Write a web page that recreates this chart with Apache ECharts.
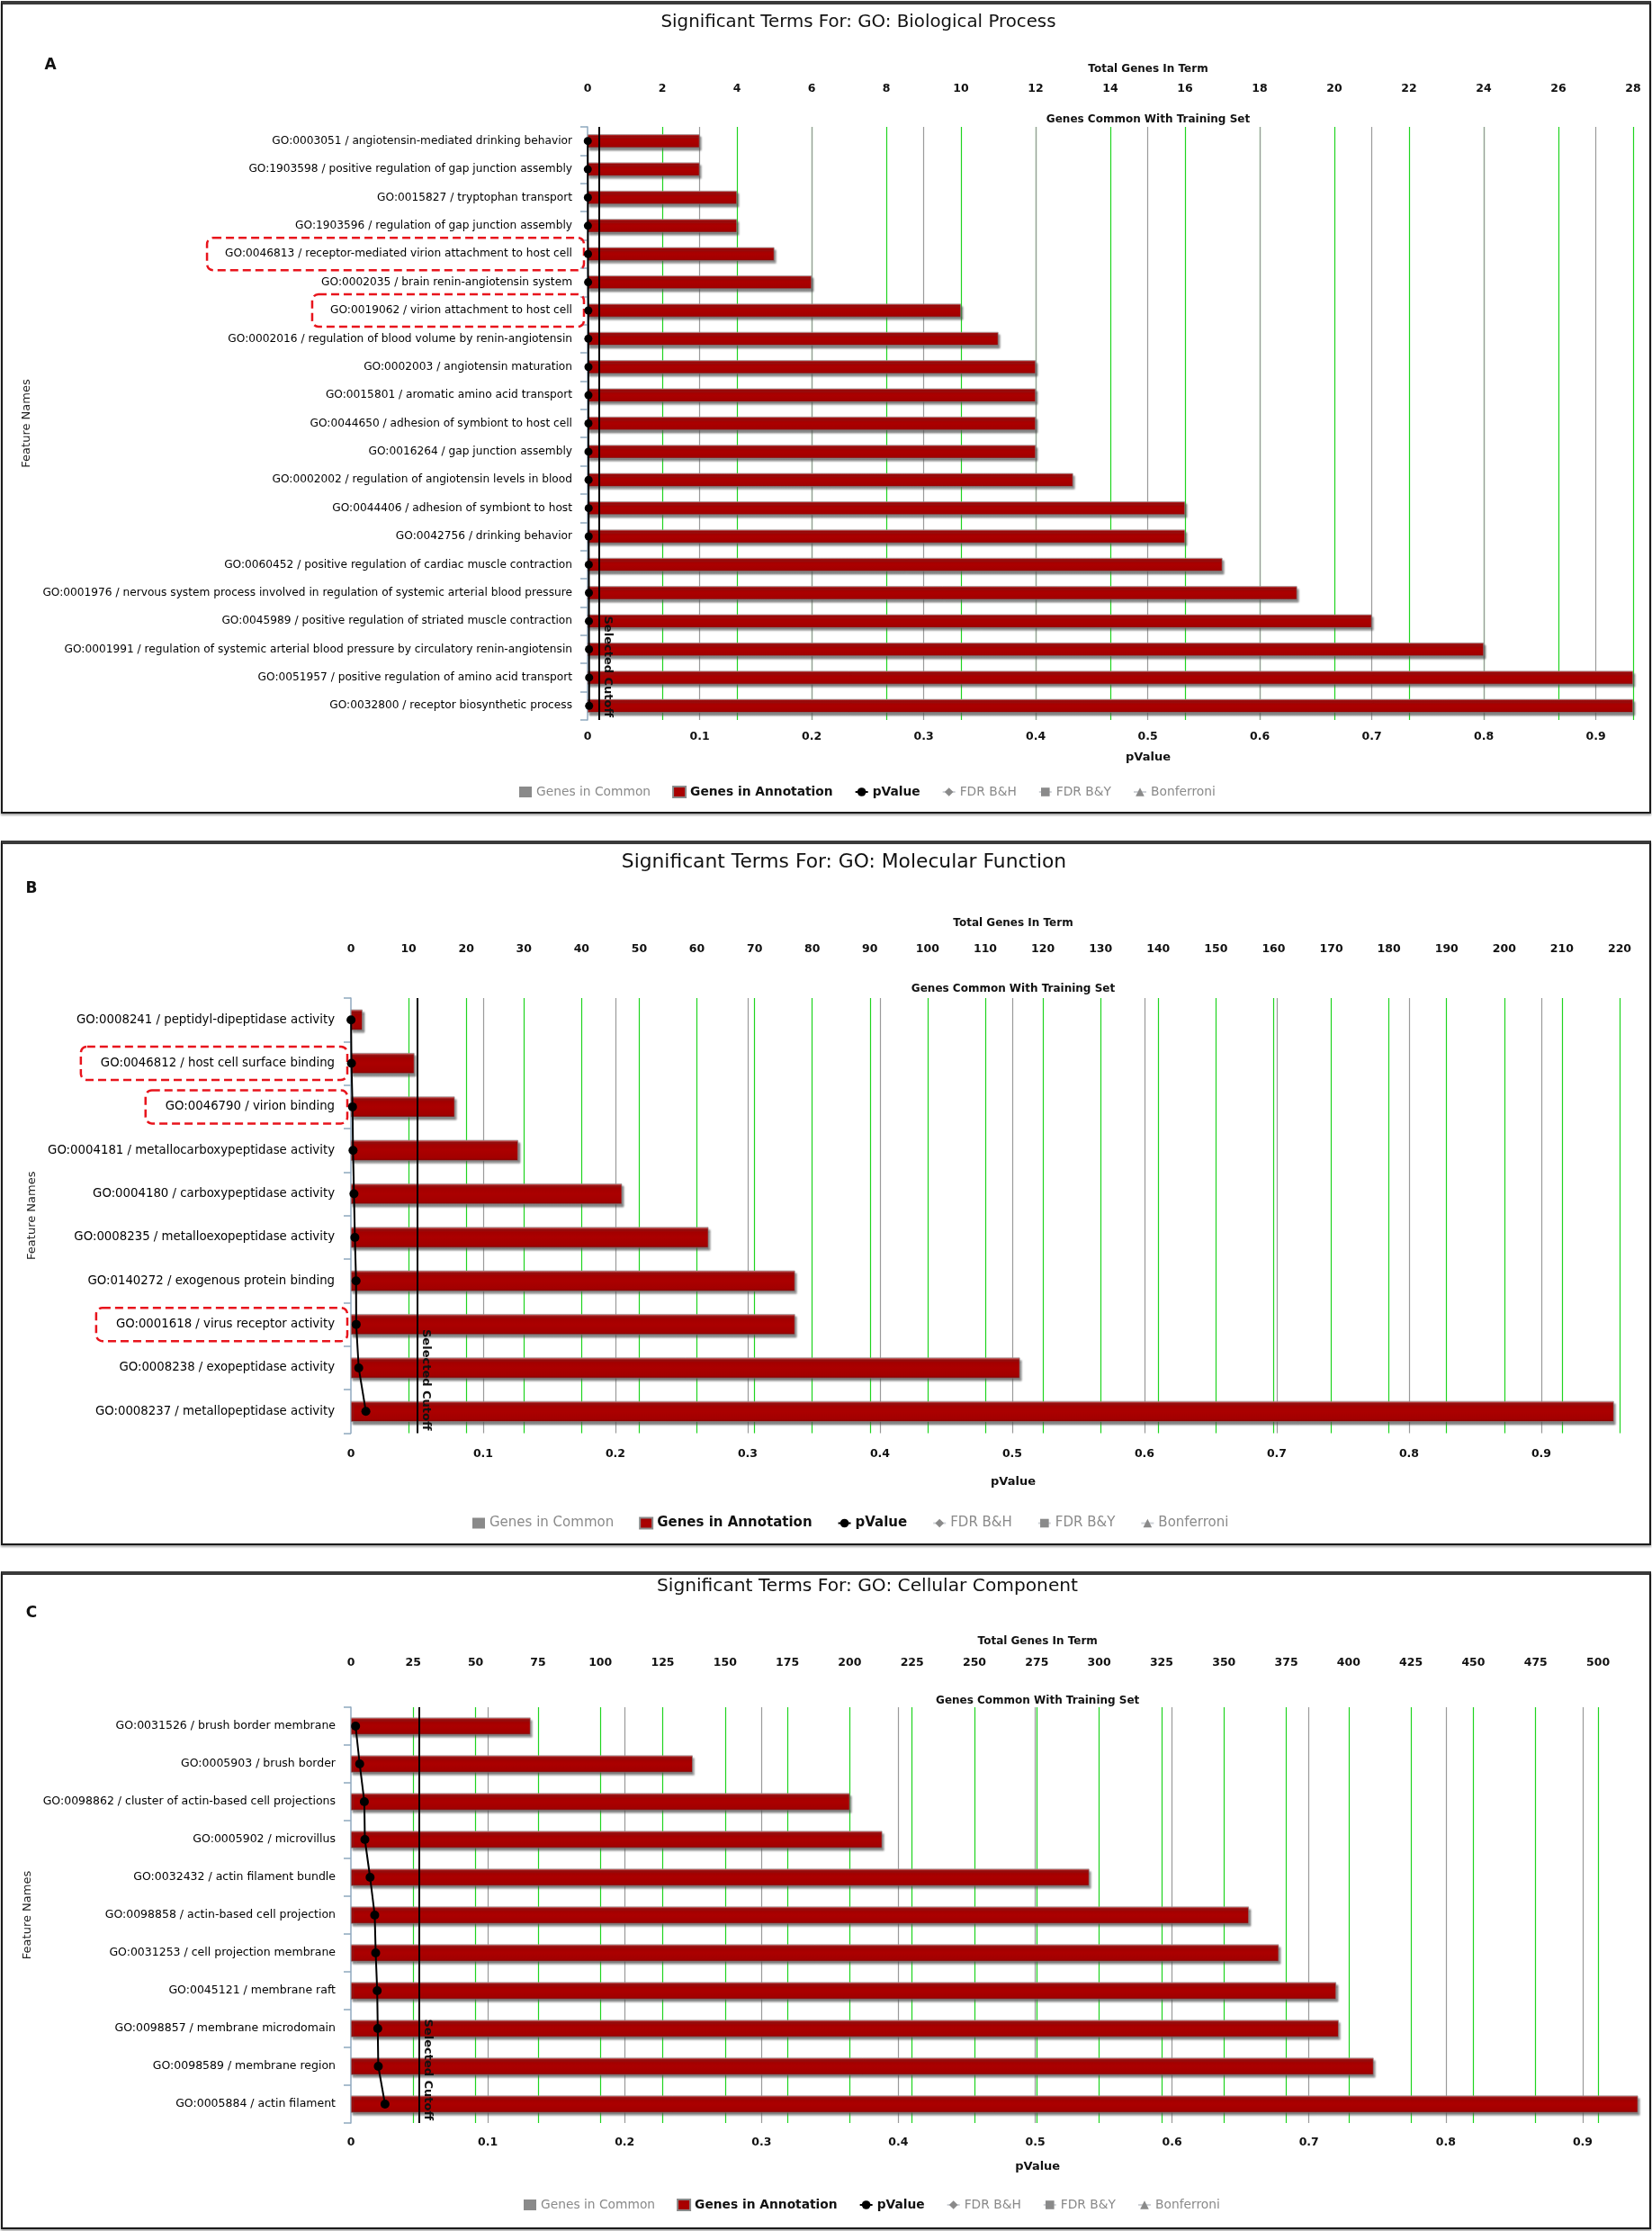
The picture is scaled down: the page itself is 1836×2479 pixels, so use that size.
<!DOCTYPE html>
<html><head><meta charset="utf-8">
<script src="https://cdn.jsdelivr.net/npm/echarts@6/dist/echarts.min.js"></script>
<style>
html,body{margin:0;padding:0;background:#fff;width:1836px;height:2479px;overflow:hidden;}
.chart{position:absolute;left:0;width:1836px;}
.frame{position:absolute;box-sizing:border-box;border:2px solid #1a1a1a;border-top:4px solid #3a3a3a;box-shadow:0 2px 2px rgba(0,0,0,0.35);pointer-events:none;}
</style></head><body>
<div class="chart" id="cA" style="top:0;height:905px"></div>
<div class="frame" style="left:1px;top:1px;width:1834px;height:903px"></div>
<div class="chart" id="cB" style="top:933px;height:785px"></div>
<div class="frame" style="left:1px;top:934px;width:1834px;height:783px"></div>
<div class="chart" id="cC" style="top:1745px;height:733px"></div>
<div class="frame" style="left:1px;top:1746px;width:1834px;height:731px"></div>
<script>
// ---------- Panel A : GO Biological Process ----------
const termsA = [
  'GO:0003051 / angiotensin-mediated drinking behavior',
  'GO:1903598 / positive regulation of gap junction assembly',
  'GO:0015827 / tryptophan transport',
  'GO:1903596 / regulation of gap junction assembly',
  'GO:0046813 / receptor-mediated virion attachment to host cell',
  'GO:0002035 / brain renin-angiotensin system',
  'GO:0019062 / virion attachment to host cell',
  'GO:0002016 / regulation of blood volume by renin-angiotensin',
  'GO:0002003 / angiotensin maturation',
  'GO:0015801 / aromatic amino acid transport',
  'GO:0044650 / adhesion of symbiont to host cell',
  'GO:0016264 / gap junction assembly',
  'GO:0002002 / regulation of angiotensin levels in blood',
  'GO:0044406 / adhesion of symbiont to host',
  'GO:0042756 / drinking behavior',
  'GO:0060452 / positive regulation of cardiac muscle contraction',
  'GO:0001976 / nervous system process involved in regulation of systemic arterial blood pressure',
  'GO:0045989 / positive regulation of striated muscle contraction',
  'GO:0001991 / regulation of systemic arterial blood pressure by circulatory renin-angiotensin',
  'GO:0051957 / positive regulation of amino acid transport',
  'GO:0032800 / receptor biosynthetic process'
];
const annotationA = [3, 3, 4, 4, 5, 6, 10, 11, 12, 12, 12, 12, 13, 16, 16, 17, 19, 21, 24, 28, 28];
const pValueA = [0.0002, 0.0002, 0.0003, 0.0003, 0.0004, 0.0005, 0.0007, 0.0007, 0.0008, 0.0008, 0.0008,
                 0.0008, 0.0009, 0.0010, 0.0010, 0.0011, 0.0012, 0.0012, 0.0013, 0.0014, 0.0014];
const highlightA = ['GO:0046813 / receptor-mediated virion attachment to host cell', 'GO:0019062 / virion attachment to host cell'];
const cutoffA = 0.01;

// ---------- Panel B : GO Molecular Function ----------
const termsB = [
  'GO:0008241 / peptidyl-dipeptidase activity',
  'GO:0046812 / host cell surface binding',
  'GO:0046790 / virion binding',
  'GO:0004181 / metallocarboxypeptidase activity',
  'GO:0004180 / carboxypeptidase activity',
  'GO:0008235 / metalloexopeptidase activity',
  'GO:0140272 / exogenous protein binding',
  'GO:0001618 / virus receptor activity',
  'GO:0008238 / exopeptidase activity',
  'GO:0008237 / metallopeptidase activity'
];
const annotationB = [2, 11, 18, 29, 47, 62, 77, 77, 116, 219];
const pValueB = [0.0001, 0.0004, 0.0012, 0.0016, 0.0023, 0.0030, 0.0039, 0.0040, 0.0059, 0.0113];
const highlightB = ['GO:0046812 / host cell surface binding', 'GO:0046790 / virion binding', 'GO:0001618 / virus receptor activity'];
const cutoffB = 0.05;

// ---------- Panel C : GO Cellular Component ----------
const termsC = [
  'GO:0031526 / brush border membrane',
  'GO:0005903 / brush border',
  'GO:0098862 / cluster of actin-based cell projections',
  'GO:0005902 / microvillus',
  'GO:0032432 / actin filament bundle',
  'GO:0098858 / actin-based cell projection',
  'GO:0031253 / cell projection membrane',
  'GO:0045121 / membrane raft',
  'GO:0098857 / membrane microdomain',
  'GO:0098589 / membrane region',
  'GO:0005884 / actin filament'
];
const annotationC = [72, 137, 200, 213, 296, 360, 372, 395, 396, 410, 516];
const pValueC = [0.0034, 0.0064, 0.0098, 0.0102, 0.0140, 0.0174, 0.0181, 0.0192, 0.0196, 0.0200, 0.0249];
const highlightC = [];
const cutoffC = 0.05;

const legendNames = ['Genes in Common', 'Genes in Annotation', 'pValue', 'FDR B&H', 'FDR B&Y', 'Bonferroni'];
const FONT = '"DejaVu Sans", Verdana, sans-serif';

function build(cfg) {
  const rich = {
    n: {fontFamily: FONT, fontSize: cfg.labelSize, color: '#000', padding: [0, cfg.padR, 0, 0]},
    hl: {fontFamily: FONT, fontSize: cfg.labelSize, color: '#000',
         padding: [cfg.padV, cfg.padR, cfg.padV, cfg.padL],
         borderColor: '#e8141c', borderWidth: 2.5, borderType: [9, 5], borderRadius: 7}
  };
  const barColor = new echarts.graphic.LinearGradient(0, 0, 0, 1, [
    {offset: 0, color: '#d98a8a'}, {offset: 0.12, color: '#a00000'},
    {offset: 0.5, color: '#ab0000'}, {offset: 0.88, color: '#a20000'}, {offset: 1, color: '#7a0000'}
  ]);
  const numLabel = {fontFamily: FONT, fontSize: 12.5, fontWeight: 'bold', color: '#111'};
  const axisNameStyle = {fontFamily: FONT, fontSize: 12, fontWeight: 'bold', color: '#111',
                         padding: [0, 0, 0, 2 * cfg.nameShift]};
  return {
    animation: false,
    textStyle: {fontFamily: FONT},
    graphic: [
      {type: 'text', x: cfg.titleX, y: cfg.titleY,
       style: {text: cfg.title, fill: '#111', font: 'normal ' + cfg.titleSize + 'px ' + FONT,
                align: 'center', verticalAlign: 'middle', textAlign: 'center', textVerticalAlign: 'middle'}},
      {type: 'text', x: cfg.letterX, y: cfg.letterY,
       style: {text: cfg.letter, fill: '#111', font: 'bold 17px ' + FONT,
                align: 'center', verticalAlign: 'middle', textAlign: 'center', textVerticalAlign: 'middle'}}
    ],
    legend: {
      left: cfg.legendLeft, top: cfg.legendTop, padding: 5,
      itemWidth: 14, itemHeight: 12, itemGap: cfg.legendGap, inactiveColor: '#8a8a8a',
      selected: {'Genes in Common': false, 'FDR B&H': false, 'FDR B&Y': false, 'Bonferroni': false},
      textStyle: {fontFamily: FONT, fontSize: cfg.legendSize, color: '#111', fontWeight: 'bold'},
      data: [
        {name: legendNames[0], icon: 'rect', textStyle: {fontWeight: 'normal'}},
        {name: legendNames[1], icon: 'rect'},
        {name: legendNames[2]},
        {name: legendNames[3], textStyle: {fontWeight: 'normal'}},
        {name: legendNames[4], textStyle: {fontWeight: 'normal'}},
        {name: legendNames[5], textStyle: {fontWeight: 'normal'}}
      ]
    },
    grid: {left: cfg.gridLeft, top: cfg.gridTop, width: cfg.gridWidth, height: cfg.gridHeight,
           containLabel: false, outerBoundsMode: 'none'},
    xAxis: [
      {type: 'value', position: 'top', min: 0, max: cfg.geneMax, interval: cfg.geneStep,
       name: 'Total Genes In Term', nameLocation: 'middle', nameGap: cfg.totalNameGap, nameTextStyle: axisNameStyle,
       axisLine: {show: false}, axisTick: {show: false},
       axisLabel: Object.assign({margin: cfg.topLabelMargin, showMaxLabel: cfg.showGeneMaxLabel, showMinLabel: true}, numLabel),
       splitLine: {show: true, showMinLine: false, showMaxLine: cfg.showGeneMaxLabel, lineStyle: {color: '#1fd41f', width: 1.2}}},
      {type: 'value', position: 'bottom', min: 0, max: cfg.pMax, interval: 0.1,
       name: 'pValue', nameLocation: 'middle', nameGap: cfg.pNameGap,
       nameTextStyle: Object.assign({}, axisNameStyle, {fontSize: 13}),
       axisLine: {show: false}, axisTick: {show: false},
       axisLabel: Object.assign({margin: cfg.bottomLabelMargin, showMaxLabel: false, showMinLabel: true,
                                 formatter: v => String(Math.round(v * 10) / 10)}, numLabel),
       splitLine: {show: true, showMinLine: false, showMaxLine: false, lineStyle: {color: '#9a9a9a', width: 1.2}}},
      {type: 'value', position: 'top', min: 0, max: cfg.geneMax,
       name: 'Genes Common With Training Set', nameLocation: 'middle', nameGap: cfg.commonNameGap, nameTextStyle: axisNameStyle,
       axisLine: {show: false}, axisTick: {show: false}, axisLabel: {show: false}, splitLine: {show: false}}
    ],
    yAxis: {
      type: 'category', inverse: true, data: cfg.terms,
      name: 'Feature Names', nameLocation: 'middle', nameRotate: 90, nameGap: cfg.featNameGap,
      nameTextStyle: {fontFamily: FONT, fontSize: 13, color: '#222'},
      axisLine: {show: true, lineStyle: {color: '#8fa9bf', width: 1.5}},
      axisTick: {show: true, length: 8, inside: false, lineStyle: {color: '#8fa9bf', width: 1.5}},
      axisLabel: {margin: 4, rich: rich,
                  formatter: v => (cfg.highlight.indexOf(v) >= 0 ? '{hl|' + v + '}' : '{n|' + v + '}')},
      splitLine: {show: false}
    },
    series: [
      {name: 'Genes in Common', type: 'bar', xAxisIndex: 0, data: [], itemStyle: {color: '#8c8c8c'}},
      {name: 'Genes in Annotation', type: 'bar', xAxisIndex: 0, data: cfg.annotation,
       barWidth: cfg.barWidth, barGap: '-100%',
       itemStyle: {color: barColor, borderColor: '#8a8a8a', borderWidth: 0.6,
                   shadowColor: 'rgba(80,80,80,0.7)', shadowOffsetX: 2, shadowOffsetY: 3, shadowBlur: 2}},
      {name: 'pValue', type: 'line', xAxisIndex: 1, data: cfg.pValue, z: 6,
       symbol: 'circle', symbolSize: cfg.symbolSize, showSymbol: true,
       lineStyle: {color: '#000', width: 2}, itemStyle: {color: '#000'},
       markLine: {silent: true, symbol: 'none', animation: false,
                  data: [{xAxis: cfg.cutoff}],
                  lineStyle: {color: '#000', width: 2, type: 'solid'},
                  label: {show: true, formatter: 'Selected Cutoff', position: 'insideEndTop', distance: 3,
                          fontFamily: FONT, fontSize: 13, fontWeight: 'bold', color: '#111'}}},
      {name: 'FDR B&H', type: 'line', xAxisIndex: 1, data: [], symbol: 'diamond', itemStyle: {color: '#777'}, lineStyle: {color: '#777'}},
      {name: 'FDR B&Y', type: 'line', xAxisIndex: 1, data: [], symbol: 'rect', itemStyle: {color: '#777'}, lineStyle: {color: '#777'}},
      {name: 'Bonferroni', type: 'line', xAxisIndex: 1, data: [], symbol: 'triangle', itemStyle: {color: '#777'}, lineStyle: {color: '#777'}}
    ]
  };
}

const cfgA = {
  terms: termsA, annotation: annotationA, pValue: pValueA, highlight: highlightA, cutoff: cutoffA,
  title: 'Significant Terms For: GO: Biological Process', titleX: 954, titleY: 25, titleSize: 19.8,
  letter: 'A', letterX: 56, letterY: 73,
  labelSize: 12.2, padR: 13, padL: 20, padV: 12,
  gridLeft: 653, gridTop: 141, gridWidth: 1162, gridHeight: 659,
  geneMax: 28, geneStep: 2, pMax: 0.9333, showGeneMaxLabel: true,
  topLabelMargin: 36, totalNameGap: 58, commonNameGap: 2, bottomLabelMargin: 12, pNameGap: 35, nameShift: 42,
  featNameGap: 601, legendLeft: 572, legendTop: 868, legendGap: 24, legendSize: 13.8,
  barWidth: 15, symbolSize: 9
};
const cfgB = {
  terms: termsB, annotation: annotationB, pValue: pValueB, highlight: highlightB, cutoff: cutoffB,
  title: 'Significant Terms For: GO: Molecular Function', titleX: 938, titleY: 25, titleSize: 21.8,
  letter: 'B', letterX: 35, letterY: 55,
  labelSize: 13.3, padR: 14, padL: 22, padV: 12,
  gridLeft: 390, gridTop: 176, gridWidth: 1410, gridHeight: 483.5,
  geneMax: 220, geneStep: 10, pMax: 0.9592, showGeneMaxLabel: true,
  topLabelMargin: 48, totalNameGap: 77.5, commonNameGap: 4.5, bottomLabelMargin: 16.5, pNameGap: 47.5, nameShift: 31,
  featNameGap: 348, legendLeft: 520, legendTop: 747, legendGap: 28, legendSize: 15,
  barWidth: 23, symbolSize: 10
};
const cfgC = {
  terms: termsC, annotation: annotationC, pValue: pValueC, highlight: highlightC, cutoff: cutoffC,
  title: 'Significant Terms For: GO: Cellular Component', titleX: 964, titleY: 18, titleSize: 20.2,
  letter: 'C', letterX: 35, letterY: 48,
  labelSize: 12.5, padR: 13, padL: 20, padV: 12,
  gridLeft: 390, gridTop: 152, gridWidth: 1430.4, gridHeight: 462,
  geneMax: 516, geneStep: 25, pMax: 0.9404, showGeneMaxLabel: false,
  topLabelMargin: 43, totalNameGap: 67.5, commonNameGap: 1, bottomLabelMargin: 15, pNameGap: 42, nameShift: 48,
  featNameGap: 349, legendLeft: 577, legendTop: 693, legendGap: 24, legendSize: 13.8,
  barWidth: 19, symbolSize: 10
};

echarts.init(document.getElementById('cA'), null, {renderer: 'canvas'}).setOption(build(cfgA));
echarts.init(document.getElementById('cB'), null, {renderer: 'canvas'}).setOption(build(cfgB));
echarts.init(document.getElementById('cC'), null, {renderer: 'canvas'}).setOption(build(cfgC));
</script>
</body></html>
